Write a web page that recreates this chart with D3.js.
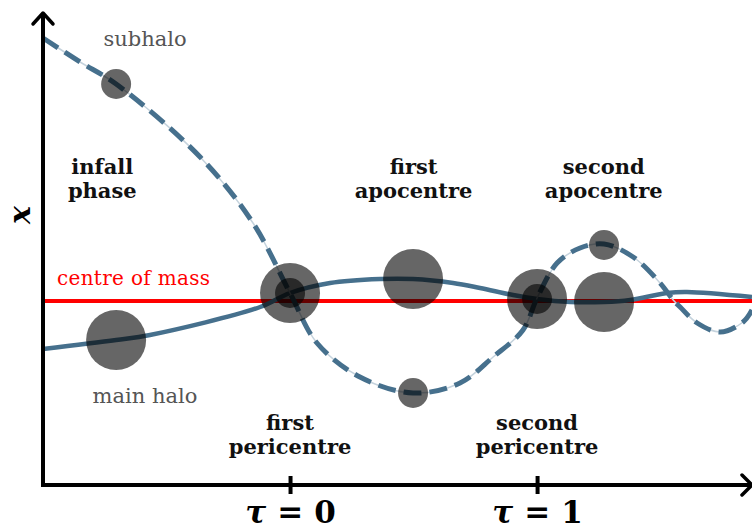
<!DOCTYPE html>
<html>
<head>
<meta charset="utf-8">
<script src="https://cdn.jsdelivr.net/npm/d3@7"></script>
<style>
  body { margin: 0; background: #fff; }
  svg { display: block; }
</style>
</head>
<body>
<svg></svg>
<script>
// orbit of the subhalo (dashed) and the main halo (solid), tau vs position
var subTau = [-1.0, -0.85, -0.704, -0.364, -0.15, 0, 0.109, 0.283, 0.498, 0.688, 0.822, 0.943, 1.0, 1.081, 1.174, 1.271, 1.389, 1.498, 1.551, 1.579, 1.648, 1.741, 1.834, 1.87];
var subX   = [2.63, 2.39, 2.17, 1.44, 0.78, 0.08, -0.42, -0.76, -0.92, -0.82, -0.56, -0.29, 0.03, 0.38, 0.53, 0.57, 0.44, 0.18, 0.01, -0.06, -0.22, -0.31, -0.21, -0.09];

var mainTau = [-1.0, -0.704, -0.567, -0.121, 0, 0.162, 0.364, 0.498, 0.66, 0.769, 0.903, 1.0, 1.134, 1.271, 1.377, 1.526, 1.607, 1.87];
var mainX   = [-0.48, -0.39, -0.34, -0.06, 0.08, 0.18, 0.22, 0.22, 0.18, 0.13, 0.06, 0.02, -0.01, -0.01, 0.01, 0.08, 0.09, 0.04];

// snapshots of the two haloes
var haloTau  = [-0.704, -0.704, 0, 0, 0.498, 0.498, 1.0, 1.0, 1.271, 1.271];
var haloX    = [2.17, -0.39, 0.08, 0.08, 0.22, -0.92, 0.02, 0.02, 0.56, -0.01];
var haloKind = ["sub", "main", "main", "sub", "main", "sub", "main", "sub", "sub", "main"];

var phaseTau   = [-0.76, 0.5, 1.27, 0, 1.0];
var phaseLines = [["infall", "phase"], ["first", "apocentre"], ["second", "apocentre"], ["first", "pericentre"], ["second", "pericentre"]];
var phaseX     = [1.27, 1.27, 1.27, -1.29, -1.29];

var tickTau = [0, 1];
var comX = 0;

var width = 752, height = 529;
var serif = "'DejaVu Serif', 'Liberation Serif', serif";
var svg = d3.select("svg").attr("width", width).attr("height", height)
    .style("font-family", serif);

var xScale = d3.scaleLinear().domain([-1, 1.87]).range([43, 752]);
var yScale = d3.scaleLinear().domain([-1.84, 2.89]).range([485, 12]);
var rScale = d3.scaleOrdinal().domain(["main", "sub"]).range([30, 15]);

var lineColor = "#46708d";

// centre of mass
svg.append("line")
    .attr("x1", xScale(-1)).attr("x2", xScale(1.87))
    .attr("y1", yScale(comX)).attr("y2", yScale(comX))
    .attr("stroke", "#ff0000").attr("stroke-width", 4);

svg.append("text")
    .attr("x", 57).attr("y", yScale(comX) - 16)
    .attr("fill", "#ff0000")
    .attr("textLength", 153)
    .style("font-size", "20px")
    .text("centre of mass");

var line = d3.line()
    .x(d => xScale(d[0]))
    .y(d => yScale(d[1]))
    .curve(d3.curveCatmullRom.alpha(0.5));

var mainPts = mainTau.map((t, i) => [t, mainX[i]]);
var subPts = subTau.map((t, i) => [t, subX[i]]);

svg.append("path")
    .attr("d", line(mainPts))
    .attr("fill", "none")
    .attr("stroke", lineColor)
    .attr("stroke-width", 4.5);

svg.append("path")
    .attr("d", line(subPts))
    .attr("fill", "none")
    .attr("stroke", "#c5d3dd")
    .attr("stroke-width", 1.5);

svg.append("path")
    .attr("d", line(subPts))
    .attr("fill", "none")
    .attr("stroke", lineColor)
    .attr("stroke-width", 5)
    .attr("stroke-dasharray", "18,8");

// haloes
svg.selectAll("circle.halo")
    .data(haloTau)
    .enter()
    .append("circle")
    .attr("class", "halo")
    .attr("cx", d => xScale(d))
    .attr("cy", (d, i) => yScale(haloX[i]))
    .attr("r", (d, i) => rScale(haloKind[i]))
    .attr("fill", "#000")
    .attr("fill-opacity", 0.6);

svg.append("text")
    .attr("x", 145).attr("y", 46)
    .attr("text-anchor", "middle")
    .attr("fill", "#555")
    .style("font-size", "21px")
    .text("subhalo");

svg.append("text")
    .attr("x", 145).attr("y", 403)
    .attr("text-anchor", "middle")
    .attr("fill", "#555")
    .style("font-size", "21px")
    .text("main halo");

// phase labels
phaseTau.forEach(function(t, i) {
    var y0 = yScale(phaseX[i]);
    var txt = svg.append("text")
        .attr("text-anchor", "middle")
        .style("font-size", "21px")
        .style("font-weight", "bold")
        .attr("fill", "#111");
    phaseLines[i].forEach(function(s, j) {
        txt.append("tspan")
            .attr("x", xScale(t))
            .attr("y", y0 + j * 24)
            .text(s);
    });
});

// axes
var axisG = svg.append("g")
    .attr("transform", "translate(0," + yScale(-1.84) + ")")
    .call(d3.axisBottom(xScale).tickValues(tickTau).tickSize(9).tickFormat(""));
axisG.select(".domain").remove();
axisG.selectAll(".tick line")
    .attr("y1", -9).attr("y2", 9)
    .attr("stroke", "#000").attr("stroke-width", 4);
axisG.selectAll(".tick")
    .append("text")
    .attr("y", 38)
    .attr("fill", "#000")
    .attr("text-anchor", "middle")
    .style("font-family", serif)
    .style("font-size", "31px")
    .style("font-weight", "bold")
    .each(function(d) {
        var t = d3.select(this);
        t.append("tspan").style("font-style", "italic").text("\u03c4");
        t.append("tspan").attr("dx", 11).text("=");
        t.append("tspan").attr("dx", 11).text(d);
    });

var x0 = xScale(-1), y0 = yScale(-1.84);
svg.append("path")
    .attr("d", "M" + x0 + "," + (y0 + 2) + "V" + 14)
    .attr("stroke", "#000").attr("stroke-width", 4).attr("fill", "none");
svg.append("path")
    .attr("d", "M" + (x0 - 2) + "," + y0 + "H" + 750)
    .attr("stroke", "#000").attr("stroke-width", 4).attr("fill", "none");
svg.append("path")
    .attr("d", "M" + (x0 - 10) + ",24 L" + x0 + ",13 L" + (x0 + 10) + ",24")
    .attr("stroke", "#000").attr("stroke-width", 3.5).attr("fill", "none")
    .attr("stroke-linecap", "round").attr("stroke-linejoin", "round");
svg.append("path")
    .attr("d", "M742," + (y0 - 10) + " L752," + y0 + " L742," + (y0 + 10))
    .attr("stroke", "#000").attr("stroke-width", 3.5).attr("fill", "none")
    .attr("stroke-linecap", "round").attr("stroke-linejoin", "round");

svg.append("text")
    .attr("transform", "translate(30,215) rotate(-90)")
    .attr("text-anchor", "middle")
    .style("font-size", "30px")
    .style("font-weight", "bold")
    .style("font-style", "italic")
    .text("x");
</script>
</body>
</html>
